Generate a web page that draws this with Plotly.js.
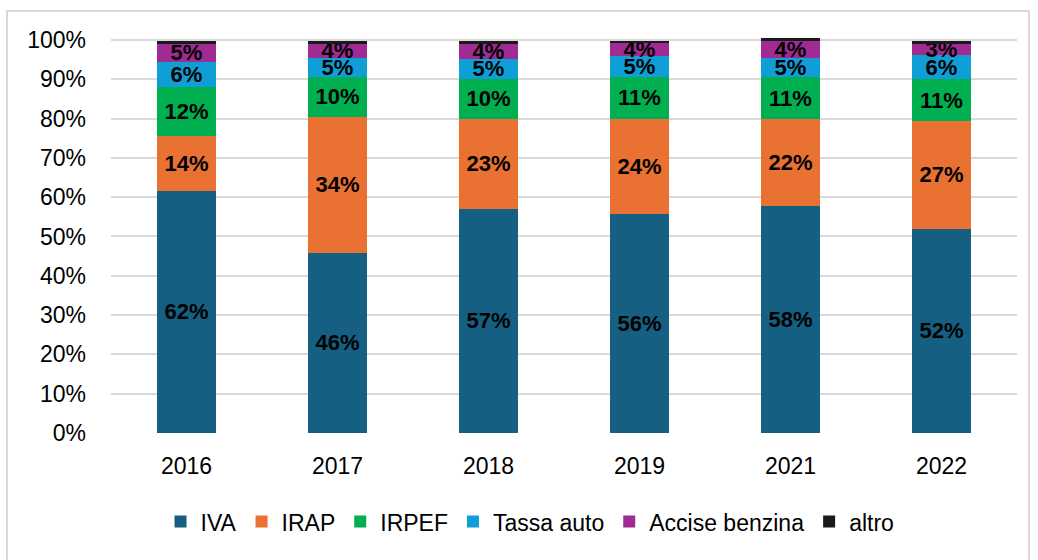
<!DOCTYPE html>
<html>
<head>
<meta charset="utf-8">
<script src="https://cdn.plot.ly/plotly-3.0.1.min.js"></script>
<style>
  html, body { margin: 0; padding: 0; background: #fff; }
  #wrap { position: relative; width: 1038px; height: 560px; overflow: hidden; }
  #chart { position: absolute; left: 0; top: 0; width: 1038px; height: 560px; }
  #frame { position: absolute; left: 6px; top: 10px; width: 1024px; height: 570px;
           border: 2px solid #d9d9d9; box-sizing: border-box; pointer-events: none; }
</style>
</head>
<body>
<div id="wrap">
  <div id="chart"></div>
  <div id="frame"></div>
</div>
<script>
const years = ['2016', '2017', '2018', '2019', '2021', '2022'];
const seriesNames = ['IVA', 'IRAP', 'IRPEF', 'Tassa auto', 'Accise benzina', 'altro'];
const iva    = [61.6, 45.9, 57.0, 55.6, 57.8, 52.0];
const irap   = [14.0, 34.4, 22.9, 24.3, 22.1, 27.4];
const irpef  = [12.4, 10.4, 10.2, 10.8, 10.6, 10.6];
const tassa  = [6.4, 4.6, 5.1, 5.1, 5.0, 6.2];
const accise = [4.6, 3.8, 3.8, 3.5, 4.3, 2.8];
const altro  = [0.7, 0.6, 0.7, 0.5, 0.6, 0.7];
const colors = ['#156082', '#E97132', '#00B050', '#0F9ED5', '#A02B93', '#1a1a1a'];
const yTicks = [0, 10, 20, 30, 40, 50, 60, 70, 80, 90, 100];

const allSeries = [iva, irap, irpef, tassa, accise, altro];
const FONT = 'Liberation Sans, Arial, sans-serif';

const traces = allSeries.map((vals, i) => ({
  type: 'bar',
  name: seriesNames[i],
  x: years,
  y: vals,
  marker: { color: colors[i], line: { width: 0 } },
  text: i < 5 ? vals.map(v => Math.round(v) + '%') : vals.map(() => ''),
  textposition: i < 5 ? 'inside' : 'none',
  insidetextanchor: 'middle',
  constraintext: 'none',
  cliponaxis: false,
  textfont: { family: FONT, size: 22, color: '#000', weight: 'bold' },
  hoverinfo: 'skip'
}));

const layout = {
  width: 1038,
  height: 560,
  barmode: 'stack',
  bargap: 0.615,
  paper_bgcolor: '#ffffff',
  plot_bgcolor: '#ffffff',
  margin: { l: 111, r: 21, t: 38, b: 127 },
  font: { family: FONT, size: 23, color: '#000' },
  showlegend: true,
  legend: {
    orientation: 'h',
    x: 0.4625, xanchor: 'center',
    y: -0.17, yanchor: 'top',
    font: { family: FONT, size: 23, color: '#000' },
    itemwidth: 30,
    traceorder: 'normal',
    bgcolor: 'rgba(0,0,0,0)'
  },
  xaxis: {
    type: 'category',
    showgrid: false,
    showline: false,
    zeroline: false,
    ticks: '',
    ticklabelstandoff: 17,
    tickfont: { family: FONT, size: 23, color: '#000' }
  },
  yaxis: {
    range: [0, 100.5],
    tickvals: yTicks,
    ticktext: yTicks.map(v => v + '%'),
    showgrid: true,
    gridcolor: '#d9d9d9',
    gridwidth: 2,
    zeroline: false,
    showline: false,
    ticks: '',
    ticklabelstandoff: 24,
    tickfont: { family: FONT, size: 23, color: '#000' }
  }
};

Plotly.newPlot('chart', traces, layout, { staticPlot: true, displayModeBar: false });
</script>
</body>
</html>
